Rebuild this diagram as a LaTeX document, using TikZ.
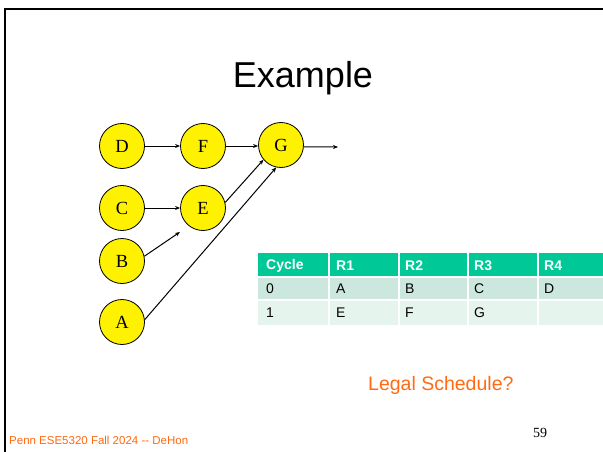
\documentclass[tikz,border=0pt]{standalone}
\usepackage{fontspec}
\setmainfont{Liberation Serif}
\newfontfamily\arialf{Liberation Sans}
\usetikzlibrary{arrows.meta}
\definecolor{hdrgreen}{HTML}{00C896}
\definecolor{rowa}{HTML}{CCE8DE}
\definecolor{rowb}{HTML}{E6F4EE}
\definecolor{orng}{HTML}{FF6A13}
\begin{document}
\begin{tikzpicture}[x=1pt,y=-1pt,
  vnode/.style={circle,draw=black,line width=0.8pt,fill=yellow,minimum size=45pt,inner sep=0pt,font=\fontsize{18.5}{20}\selectfont},
  edge/.style={line width=1pt,-{Stealth[length=5pt,width=4pt]}},
  cell/.style={anchor=west,font=\arialf\fontsize{14}{16}\selectfont,inner sep=0pt},
  hcell/.style={cell,text=white,font=\arialf\bfseries\fontsize{14}{16}\selectfont}]
\useasboundingbox (0,0) rectangle (603,452);
\fill[white] (0,0) rectangle (603,452);
% frame
\draw[line width=2pt,black] (5,452) -- (5,9) -- (603,9);
% title
\node[font=\arialf\fontsize{36}{40}\selectfont,anchor=base] (title) at (303,88) {Example};
% nodes
\node[vnode] (D) at (122,146) {D};
\node[vnode] (F) at (203,146) {F};
\node[vnode] (G) at (281,145) {G};
\node[vnode] (C) at (122,208) {C};
\node[vnode] (E) at (203,208) {E};
\node[vnode] (B) at (122,261) {B};
\node[vnode] (A) at (122,322) {A};
\coordinate (gout) at (338,147);
\coordinate (bout) at (180,232);
\draw[edge] (D) -- (F);
\draw[edge] (F.east) -- (F.east -| G.west);
\draw[edge] (C) -- (E);
\draw[edge] (G.-5) -- (gout);
\draw[edge] (B.12) -- (bout);
\draw[edge] (E.14) -- (G.-140);
\draw[edge] (A.6) -- (G.-102);
% table
\fill[hdrgreen] (258,253) rectangle (603,277);
\fill[rowa] (258,277) rectangle (603,300);
\fill[rowb] (258,300) rectangle (603,325);
\foreach \y in {277,300} \draw[white,line width=1.2pt] (258,\y) -- (603,\y);
\foreach \x in {329,399,468,538} \draw[white,line width=1.2pt] (\x,253) -- (\x,325);
\node[hcell] (h0) at (266,266) {Cycle};
\node[hcell] (h1) at (336,266) {R1};
\node[hcell] (h2) at (405,266) {R2};
\node[hcell] (h3) at (474,266) {R3};
\node[hcell] (h4) at (544,266) {R4};
\node[cell] (a0) at (266,289) {0};
\node[cell] (a1) at (336,289) {A};
\node[cell] (a2) at (405,289) {B};
\node[cell] (a3) at (474,289) {C};
\node[cell] (a4) at (544,289) {D};
\node[cell] (b0) at (266,313) {1};
\node[cell] (b1) at (336,313) {E};
\node[cell] (b2) at (405,313) {F};
\node[cell] (b3) at (474,313) {G};
% texts
\node[anchor=base west,inner sep=0pt,text=orng,font=\arialf\fontsize{19.5}{22}\selectfont] (legal) at (368,390) {Legal Schedule?};
\node[anchor=base west,inner sep=0pt,font=\fontsize{14}{16}\selectfont] (pg) at (533,437) {59};
\node[anchor=base west,inner sep=0pt,text=orng,font=\arialf\fontsize{11.5}{13}\selectfont] (foot) at (9,444) {Penn ESE5320 Fall 2024 -{}- DeHon};
\end{tikzpicture}
\end{document}
